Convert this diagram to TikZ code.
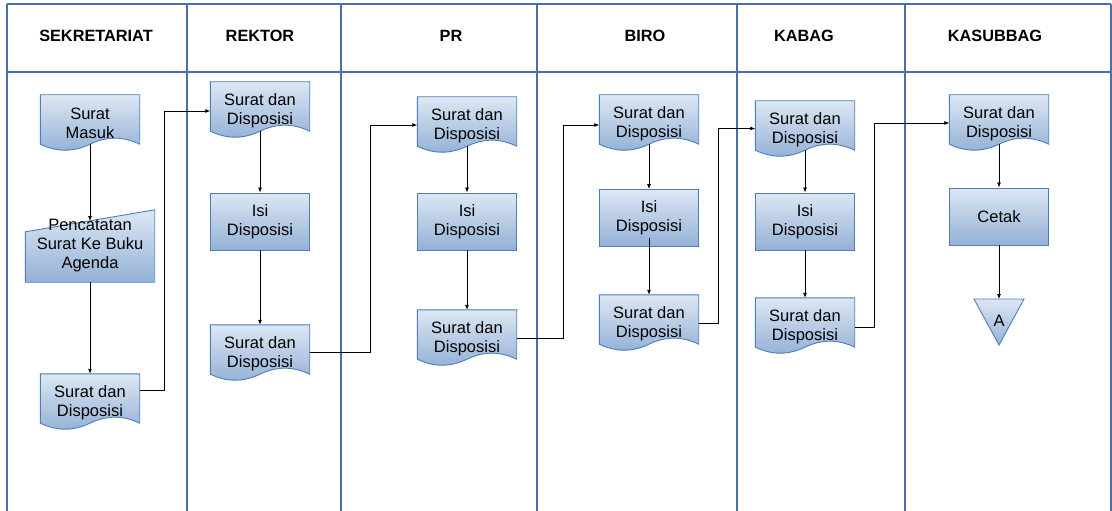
\documentclass[tikz,border=0pt]{standalone}
\usepackage{fontspec}
\setmainfont{Liberation Sans}
\usetikzlibrary{calc,arrows.meta}
\pgfdeclarelayer{background}
\pgfsetlayers{background,main}
\definecolor{laneblue}{HTML}{4A6EA8}
\definecolor{shapeblue}{HTML}{4F7DB8}
\definecolor{filltop}{HTML}{DDE7F3}
\definecolor{fillbot}{HTML}{93B1D6}

\begin{document}
\begin{tikzpicture}[x=1pt,y=-1pt,
	lane/.style={laneblue,line width=1.5pt},
	head/.style={font=\bfseries\fontsize{16.3}{19}\selectfont},
	doc/.style={minimum width=99pt,minimum height=55pt,inner sep=1pt,align=center,font=\fontsize{16.5}{19}\selectfont},
	shapefill/.style={draw=shapeblue,line width=0.9pt,top color=filltop,bottom color=fillbot},
	proc/.style={doc,shapefill,minimum height=57pt},
	flow/.style={-{Latex[length=5pt,width=4pt]},line width=0.8pt}]
	\useasboundingbox (0,0) rectangle (1112,511);
	% lanes
	\draw[lane] (7,4) -- (1111,4);
	\draw[lane] (7,72) -- (1111,72);
	\foreach \x in {7,187,341,537,737,905,1111}
		\draw[lane] (\x,4) -- (\x,511);
	\foreach \t/\x[count=\i] in {SEKRETARIAT/96,REKTOR/260,PR/451,BIRO/645,KABAG/804,KASUBBAG/995}
		\node[head] (h\i) at (\x,36) {\t};
	% sekretariat
	\node[doc] (s1) at (90,123.5) {Surat\\Masuk};
	\node[doc,minimum width=129pt,minimum height=72pt] (m) at (90,246) {Pencatatan\\Surat Ke Buku\\Agenda};
	\node[doc] (s3) at (90,402.5) {Surat dan\\Disposisi};
	\coordinate (m-in) at (90,221);
	% rektor, pr, biro, kabag
	\foreach \c/\x/\ya/\yb/\yc in {r/260/110.5/221.5/353.5,p/467/125.5/221.5/338.5,b/649/123.5/218/323.5,k/805/129.5/221.5/326.5}
	{\node[doc] (\c1) at (\x,\ya) {Surat dan\\Disposisi};
		\node[proc] (\c2) at (\x,\yb) {Isi\\Disposisi};
		\node[doc] (\c3) at (\x,\yc) {Surat dan\\Disposisi};}
	% kasubbag
	\node[doc] (ks1) at (999,123.5) {Surat dan\\Disposisi};
	\node[proc] (ks2) at (999,216.5) {Cetak};
	\node[doc,minimum width=20pt,minimum height=20pt] (a) at (999,321) {A};
	\coordinate (a-in) at ($(a)+(0,-22)$);
	\begin{pgfonlayer}{background}
		\foreach \n in {s1,s3,r1,r3,p1,p3,b1,b3,k1,k3,ks1}
		\draw[shapefill] ($(\n.north west)+(0,-1)$) -- ($(\n.north east)+(0,-1)$) -- ($(\n.south east)+(0,-7)$)
		.. controls ($(\n.south west)!0.833!(\n.south east)+(0,-15)$) and ($(\n.south west)!0.667!(\n.south east)+(0,-15)$) .. ($(\n.south)+(0,-7)$)
		.. controls ($(\n.south west)!0.333!(\n.south east)+(0,1)$) and ($(\n.south west)!0.167!(\n.south east)+(0,1)$) .. ($(\n.south west)+(0,-7)$) -- cycle;
		\draw[shapefill] (m.north east) -- (m.south east) -- (m.south west) -- ($(m.north west)+(0,22)$) -- cycle;
		\draw[shapefill] ($(a)+(-25,-22)$) -- ($(a)+(25,-22)$) -- ($(a)+(0,24)$) -- cycle;
	\end{pgfonlayer}
	% flows
	\draw[flow] ($(s1.south)+(0,-7)$) -- (m-in);
	\draw[flow] (m.south) -- ($(s3.north)+(0,-1)$);
	\foreach \c in {r,p,k}
	{\draw[flow] ($(\c1.south)+(0,-7)$) -- (\c2.north);
		\draw[flow] (\c2.south) -- ($(\c3.north)+(0,-1)$);}
	\draw[flow] ($(b1.south)+(0,-7)$) -- (b2.north);
	\draw[flow] ($(b2.south)+(0,-9)$) -- ($(b3.north)+(0,-1)$);
	\draw[flow] ($(ks1.south)+(0,-7)$) -- (ks2.north);
	\draw[flow] (ks2.south) -- (a-in);
	\foreach \p/\q/\dp/\dx/\dq in {s3/r1/-12.5/24.5/0.5,r3/p1/-1/60.5/-0.5,p3/b1/-0.5/46.5/1.5,b3/k1/-0.5/19.5/-1,k3/ks1/0.5/19.5/-0.5}
		\draw[flow] ($(\p.east)+(0,\dp)$) -- ++(\dx,0) |- ($(\q.west)+(0,\dq)$);
\end{tikzpicture}
\end{document}
